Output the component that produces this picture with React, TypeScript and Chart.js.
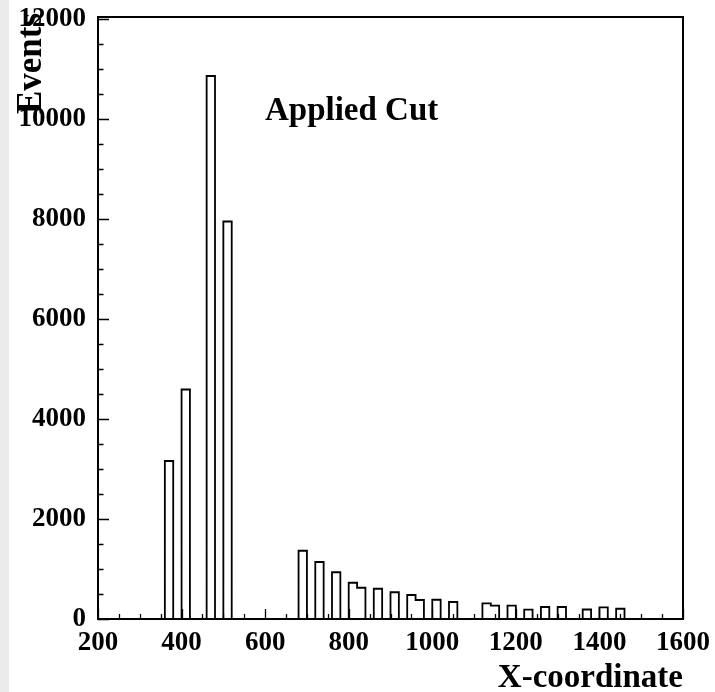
import React, { useEffect, useRef } from "react";
import { Chart, registerables } from "chart.js";

Chart.register(...registerables);

// Histogram binning (bins of 20 units from 200 to 1600)
const binWidth = 20;
const xMin = 200;
const xMax = 1600;
const yMin = 0;
const yMax = 12040;

// Non-empty bins (lower edge) and their event counts
const binStarts = [360, 400, 460, 500, 680, 720, 760, 800, 820, 860, 900, 940, 960, 1000, 1040, 1120, 1140, 1180, 1220, 1260, 1300, 1360, 1400, 1440];
const counts = [3160, 4590, 10860, 7950, 1365, 1140, 935, 725, 625, 605, 535, 480, 380, 385, 340, 312, 266, 266, 186, 240, 240, 190, 232, 205];

// Axis tick values
const xTickValues = [200, 400, 600, 800, 1000, 1200, 1400, 1600];
const yTickValues = [0, 2000, 4000, 6000, 8000, 10000, 12000];
const xMinorStep = 50;
const yMinorStep = 500;

const xTitle = "X-coordinate";
const yTitle = "Events";
const plotLabel = "Applied Cut";

const FONT = '"Liberation Serif", "Times New Roman", serif';

function buildSeries() {
  const pts: { x: number; y: number }[] = [];
  for (let e = xMin; e < xMax; e += binWidth) {
    const i = binStarts.indexOf(e);
    pts.push({ x: e, y: i >= 0 ? counts[i] : 0 });
  }
  pts.push({ x: xMax, y: 0 });
  return pts;
}

const rootStylePlugin = {
  id: "rootStyle",
  afterDraw(chart: any) {
    const { ctx, chartArea: a, scales } = chart;
    const xs = scales.x;
    const ys = scales.y;
    ctx.save();
    ctx.strokeStyle = "#000";
    ctx.lineWidth = 1.3;
    ctx.beginPath();
    for (let v = xMin; v <= xMax; v += xMinorStep) {
      const px = Math.round(xs.getPixelForValue(v)) + 0.5;
      const len = xTickValues.includes(v) ? 10 : 5;
      ctx.moveTo(px, a.bottom);
      ctx.lineTo(px, a.bottom - len);
    }
    for (let v = yMin; v <= 12000; v += yMinorStep) {
      const py = Math.round(ys.getPixelForValue(v)) + 0.5;
      const len = yTickValues.includes(v) ? 11 : 5.5;
      ctx.moveTo(a.left, py);
      ctx.lineTo(a.left + len, py);
    }
    ctx.stroke();

    ctx.lineWidth = 2;
    ctx.strokeRect(a.left, a.top, a.right - a.left, a.bottom - a.top);

    ctx.fillStyle = "#000";
    ctx.font = `bold 33px ${FONT}`;
    ctx.textBaseline = "alphabetic";

    ctx.textAlign = "right";
    ctx.fillText(xTitle, a.right, a.bottom + 68);

    ctx.save();
    ctx.font = `bold 35px ${FONT}`;
    ctx.translate(41, a.top - 4);
    ctx.rotate(-Math.PI / 2);
    ctx.textAlign = "right";
    ctx.fillText(yTitle, 0, 0);
    ctx.restore();

    ctx.textAlign = "left";
    ctx.fillText(plotLabel, 265, 120);
    ctx.restore();
  },
};

export default function App() {
  const canvasRef = useRef<HTMLCanvasElement | null>(null);

  useEffect(() => {
    if (!canvasRef.current) return;
    const chart = new Chart(canvasRef.current, {
      type: "line",
      data: {
        datasets: [
          {
            data: buildSeries(),
            stepped: true,
            borderColor: "#000",
            borderWidth: 1.8,
            pointRadius: 0,
            fill: false,
            tension: 0,
          },
        ],
      },
      options: {
        animation: false,
        responsive: false,
        devicePixelRatio: 1,
        layout: { padding: { top: 17, right: 32, left: 0, bottom: 0 } },
        plugins: {
          legend: { display: false },
          tooltip: { enabled: false },
        },
        scales: {
          x: {
            type: "linear",
            min: xMin,
            max: xMax,
            grid: { display: false, drawTicks: false },
            border: { display: true, color: "#000", width: 2 },
            afterBuildTicks: (scale: any) => {
              scale.ticks = xTickValues.map((v) => ({ value: v }));
            },
            afterFit: (scale: any) => {
              scale.height = 73;
              scale.paddingLeft = 0;
              scale.paddingRight = 0;
            },
            ticks: {
              includeBounds: false,
              autoSkip: false,
              maxRotation: 0,
              padding: 8,
              color: "#000",
              font: { family: FONT, size: 27, weight: "bold" },
              callback: (v: any) => String(v),
            },
          },
          y: {
            type: "linear",
            min: yMin,
            max: yMax,
            grid: { display: false, drawTicks: false },
            border: { display: true, color: "#000", width: 2 },
            afterBuildTicks: (scale: any) => {
              scale.ticks = yTickValues.map((v) => ({ value: v }));
            },
            afterFit: (scale: any) => {
              scale.width = 98;
              scale.paddingTop = 0;
              scale.paddingBottom = 0;
            },
            ticks: {
              includeBounds: false,
              autoSkip: false,
              padding: 12,
              color: "#000",
              font: { family: FONT, size: 27, weight: "bold" },
              callback: (v: any) => String(v),
            },
          },
        },
      },
      plugins: [rootStylePlugin],
    } as any);
    return () => chart.destroy();
  }, []);

  return (
    <div style={{ position: "absolute", left: 0, top: 0, width: 715, height: 692, background: "#fff", overflow: "hidden" }}>
      <div style={{ position: "absolute", left: 0, top: 0, width: 9, height: 692, background: "#ebebeb" }} />
      <canvas ref={canvasRef} width={715} height={692} style={{ position: "absolute", left: 0, top: 0, width: 715, height: 692 }} />
    </div>
  );
}
